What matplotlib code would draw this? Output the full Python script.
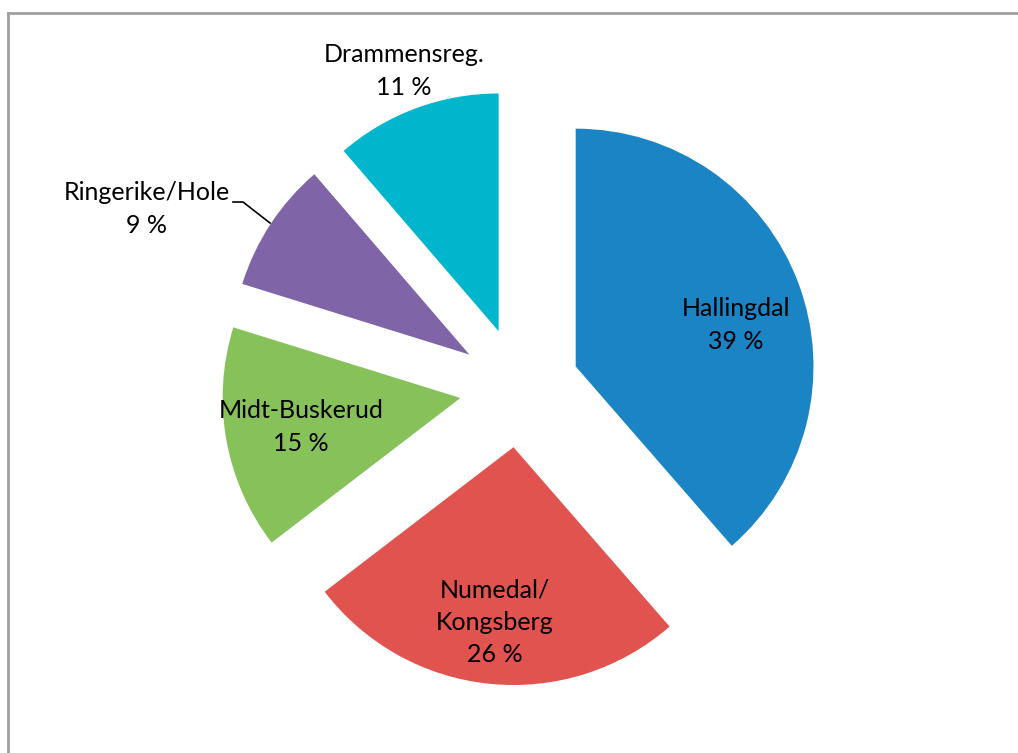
import matplotlib
matplotlib.use("Agg")
import matplotlib.pyplot as plt
from matplotlib.lines import Line2D

categories = ["Hallingdal", "Numedal/\nKongsberg", "Midt-Buskerud", "Ringerike/Hole", "Drammensreg."]
shares = [38.6, 26.0, 15.2, 8.9, 11.3]          # slice sizes
label_pct = [39, 26, 15, 9, 11]                  # percentages shown on the labels
colors = ["#1B84C4", "#E0534F", "#86C15A", "#8064A8", "#00B5CC"]

W, H = 1018, 753
fig = plt.figure(figsize=(W / 100, H / 100), dpi=100)
ax = fig.add_axes([0, 0, 1, 1])

cx, cy = 519.5, H - 387.5
radius = 237.8
explode_px = 60
wedges, _ = ax.pie(shares, colors=colors, startangle=90, counterclock=False,
                   explode=[explode_px] * len(shares), radius=radius, center=(cx, cy),
                   wedgeprops=dict(linewidth=0), frame=True)
ax.set_xlim(0, W)
ax.set_ylim(0, H)
ax.set_aspect("equal")
ax.axis("off")

# label positions (pixel coords, top-origin)
label_pos = [(736, 325), (495, 622), (301, 427), (147, 209), (404, 71)]
font = dict(family=["Lato", "DejaVu Sans"], fontsize=18, color="#000000")
for name, v, (x, y) in zip(categories, label_pct, label_pos):
    ax.text(x, H - y, f"{name}\n{v} %", ha="center", va="center",
            linespacing=1.5, **font)

# leader line for Ringerike/Hole
ax.add_line(Line2D([233, 243, 270], [H - 202, H - 202, H - 223], color="black", lw=1.2))

# chart border (top and left)
fig.add_artist(Line2D([8 / W, 8 / W], [0, 1 - 13 / H], color="#A0A0A0", lw=2))
fig.add_artist(Line2D([8 / W, 1], [1 - 13 / H, 1 - 13 / H], color="#A0A0A0", lw=2))

fig.savefig("out.png", dpi=100, facecolor="white")
